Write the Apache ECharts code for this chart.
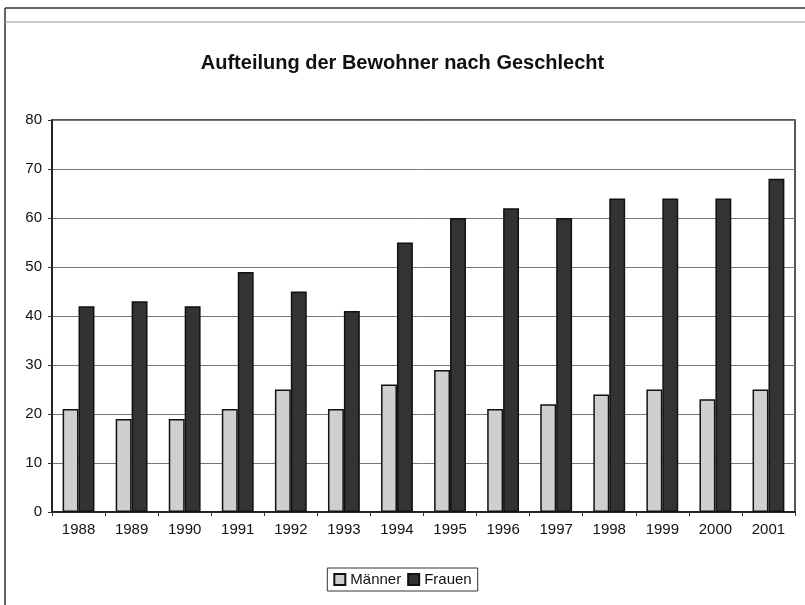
<!DOCTYPE html>
<html>
<head>
<meta charset="utf-8">
<script src="https://cdn.jsdelivr.net/npm/echarts@6/dist/echarts.min.js"></script>
<style>
  html, body { margin: 0; padding: 0; background: #fff; }
  #chart { width: 805px; height: 605px; }
</style>
</head>
<body>
<div id="chart"></div>
<script>
const years = ['1988','1989','1990','1991','1992','1993','1994','1995','1996','1997','1998','1999','2000','2001'];
const maenner = [21, 19, 19, 21, 25, 21, 26, 29, 21, 22, 24, 25, 23, 25];
const frauen = [42, 43, 42, 49, 45, 41, 55, 60, 62, 60, 64, 64, 64, 68];
const yTicks = [0, 10, 20, 30, 40, 50, 60, 70, 80];

const chart = echarts.init(document.getElementById('chart'));

chart.setOption({
  backgroundColor: '#fff',
  animation: false,
  textStyle: { fontFamily: 'Liberation Sans, Arial, sans-serif' },
  title: {
    text: 'Aufteilung der Bewohner nach Geschlecht',
    left: 'center',
    top: 48,
    textStyle: { fontSize: 20, fontWeight: 'bold', color: '#111' }
  },
  legend: {
    bottom: 14,
    left: 'center',
    icon: 'rect',
    itemWidth: 11,
    itemHeight: 11,
    itemGap: 6,
    padding: [4, 6],
    borderColor: '#333',
    borderWidth: 1,
    textStyle: { fontSize: 15, color: '#111' },
    data: ['Männer', 'Frauen']
  },
  grid: {
    left: 52,
    right: 10,
    top: 120,
    bottom: 93,
    show: true,
    borderColor: '#222',
    borderWidth: 1.5
  },
  xAxis: {
    type: 'category',
    data: years,
    axisLine: { lineStyle: { color: '#111', width: 1.5 } },
    axisTick: { show: true, inside: false, length: 4, lineStyle: { color: '#333' } },
    axisLabel: { fontSize: 15, color: '#111', margin: 10 }
  },
  yAxis: {
    type: 'value',
    min: yTicks[0],
    max: yTicks[yTicks.length - 1],
    interval: 10,
    axisLine: { show: true, lineStyle: { color: '#111', width: 1.5 } },
    axisTick: { show: true, length: 4, lineStyle: { color: '#333' } },
    axisLabel: { fontSize: 15, color: '#111', margin: 10 },
    splitLine: { lineStyle: { color: '#777', width: 1 } }
  },
  series: [
    {
      name: 'Männer',
      type: 'bar',
      data: maenner,
      barGap: '0%',
      barCategoryGap: '40%',
      itemStyle: { color: '#cfcfcf', borderColor: '#111', borderWidth: 1.5 }
    },
    {
      name: 'Frauen',
      type: 'bar',
      data: frauen,
      itemStyle: { color: '#333333', borderColor: '#111', borderWidth: 1.5 }
    }
  ],
  graphic: [
    { type: 'line', shape: { x1: 5, y1: 8, x2: 805, y2: 8 }, style: { stroke: '#333', lineWidth: 1.5 } },
    { type: 'line', shape: { x1: 5, y1: 8, x2: 5, y2: 605 }, style: { stroke: '#333', lineWidth: 1.5 } },
    { type: 'line', shape: { x1: 5, y1: 22, x2: 805, y2: 22 }, style: { stroke: '#999', lineWidth: 1 } }
  ]
});
</script>
</body>
</html>
